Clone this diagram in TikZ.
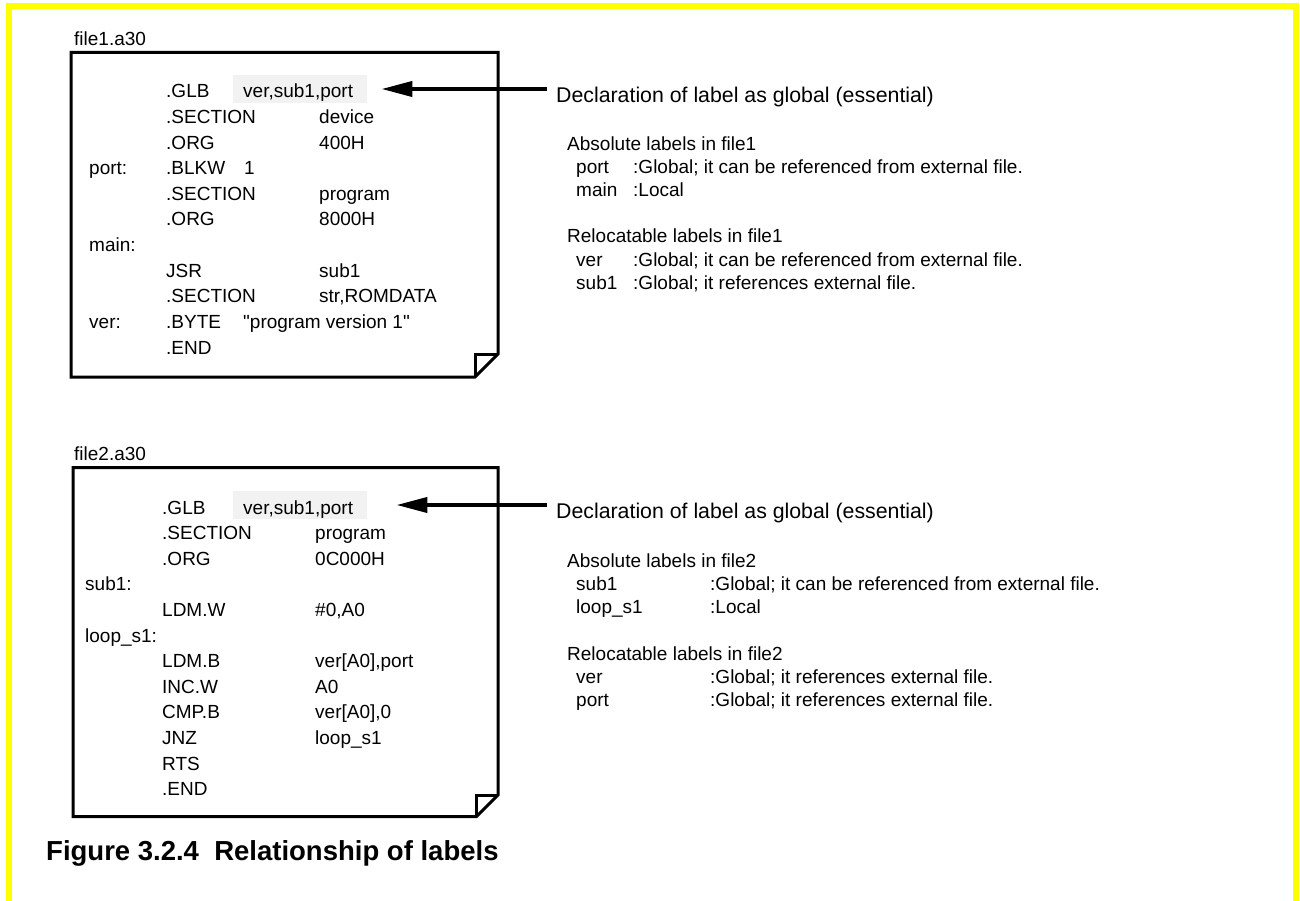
\documentclass[tikz,border=0pt]{standalone}
\usepackage{fontspec}
\setmainfont{Liberation Sans}[Ligatures=TeXOff]
\usetikzlibrary{arrows.meta}
\definecolor{frameYellow}{HTML}{FFFF00}
\definecolor{glbGray}{HTML}{F2F2F2}
\tikzset{
  code/.style={anchor=base west, inner sep=0pt, font=\fontsize{19}{23}\selectfont},
  note/.style={anchor=base west, inner sep=0pt, font=\fontsize{19}{23}\selectfont},
  decl/.style={anchor=base west, inner sep=0pt, font=\fontsize{21.3}{25}\selectfont},
  glbbox/.style={code, fill=glbGray, inner xsep=10pt, inner ysep=0pt,
                 text width=114pt, text height=23pt, text depth=5pt},
  srcpage/.style={draw, line width=3pt, line join=miter},
  arrowB/.style={-{Triangle[length=31pt, width=15pt]}, line width=4pt},
}

\begin{document}
\begin{tikzpicture}[x=1pt, y=-1pt]
  \useasboundingbox (0,0) rectangle (1300,901);
  \draw[frameYellow, line width=5.7pt, line join=miter]
    (9.2,901) -- (9.2,6.2) -- (1296,6.2) -- (1296,901);

  % file1.a30
  \node[code] (f1-name) at (74,46) {file1.a30};
  \draw[srcpage] (71,52.5) -- (498,52.5) -- (498,354) -- (475,377) -- (71,377) -- cycle;
  \draw[srcpage] (475,377) -- (475,354) -- (498,354);
  \node[glbbox] (glb1) at (233,98) {ver,sub1,port};
  \foreach \r/\t in {3/port:, 6/main:, 9/ver:}
    \node[code] (f1-lbl\r) at (89,{98+25.6*\r}) {\t};
  \foreach \r/\t in {0/.GLB, 1/.SECTION, 2/.ORG, 3/.BLKW, 4/.SECTION, 5/.ORG,
                     7/JSR, 8/.SECTION, 9/.BYTE, 10/.END}
    \node[code] (f1-dir\r) at (166,{98+25.6*\r}) {\t};
  \foreach \r/\t in {1/device, 2/400H, 4/program, 5/8000H, 7/sub1, 8/{str,ROMDATA}}
    \node[code] (f1-opd\r) at (319,{98+25.6*\r}) {\t};
  \node[code] (f1-arg3) at (244,{98+25.6*3}) {1};
  \node[code] (f1-arg9) at (243,{98+25.6*9}) {"program version 1"};

  \node[decl] (decl1) at (556,102.5) {Declaration of label as global (essential)};
  \node[note] (abs1) at (567,151) {Absolute labels in file1};
  \node[note] (rel1) at (567,243) {Relocatable labels in file1};
  \foreach \y/\n/\d in {174/port/{:Global; it can be referenced from external file.},
                        197/main/{:Local},
                        266/ver/{:Global; it can be referenced from external file.},
                        289/sub1/{:Global; it references external file.}} {
    \node[note] (f1-\n) at (576,\y) {\n};
    \node[note] (f1-\n-d) at (633,\y) {\d};
  }
  \draw[arrowB, shorten <=9pt, shorten >=14pt] (decl1.west |- glb1.east) -- (glb1.east);

  % file2.a30
  \node[code] (f2-name) at (74,460.5) {file2.a30};
  \draw[srcpage] (73,467.5) -- (498,467.5) -- (498,795) -- (476.5,816.5) -- (73,816.5) -- cycle;
  \draw[srcpage] (476.5,816.5) -- (476.5,795) -- (498,795);
  \node[glbbox] (glb2) at (233,514) {ver,sub1,port};
  \foreach \r/\t in {3/sub1:, 5/loop\_s1:}
    \node[code] (f2-lbl\r) at (85,{514+25.6*\r}) {\t};
  \foreach \r/\t in {0/.GLB, 1/.SECTION, 2/.ORG, 4/LDM.W, 6/LDM.B, 7/INC.W,
                     8/CMP.B, 9/JNZ, 10/RTS, 11/.END}
    \node[code] (f2-dir\r) at (162,{514+25.6*\r}) {\t};
  \foreach \r/\t in {1/program, 2/0C000H, 4/{\#0,A0}, 6/{ver[A0],port}, 7/A0,
                     8/{ver[A0],0}, 9/loop\_s1}
    \node[code] (f2-opd\r) at (315,{514+25.6*\r}) {\t};

  \node[decl] (decl2) at (556,518.5) {Declaration of label as global (essential)};
  \node[note] (abs2) at (567,567) {Absolute labels in file2};
  \node[note] (rel2) at (567,660) {Relocatable labels in file2};
  \foreach \y/\n/\d in {590/sub1/{:Global; it can be referenced from external file.},
                        613/loop\_s1/{:Local},
                        683/ver/{:Global; it references external file.},
                        706/port/{:Global; it references external file.}} {
    \node[note] (f2-\y) at (576,\y) {\n};
    \node[note] (f2-\y-d) at (710,\y) {\d};
  }
  \draw[arrowB, shorten <=9pt, shorten >=29pt] (decl2.west |- glb2.east) -- (glb2.east);

  \node[anchor=base west, inner sep=0pt, font=\fontsize{27.5}{32}\selectfont\bfseries]
    (caption) at (46,860) {Figure 3.2.4\ \ Relationship of labels};
\end{tikzpicture}
\end{document}
